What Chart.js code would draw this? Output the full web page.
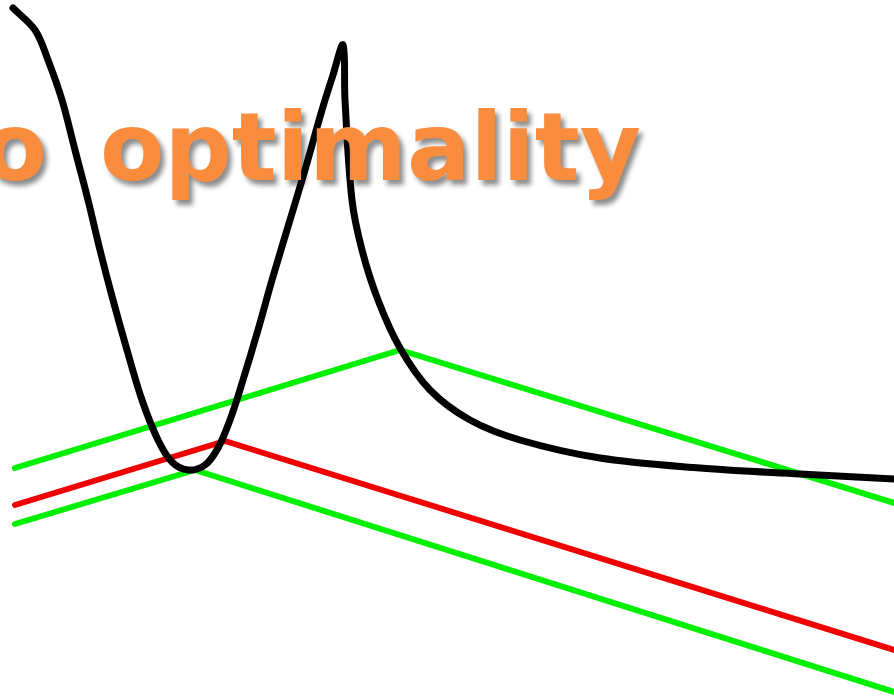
<!DOCTYPE html>
<html>
<head>
<meta charset="utf-8">
<script src="https://cdn.jsdelivr.net/npm/chart.js@4/dist/chart.umd.min.js"></script>
<style>
  html, body { margin: 0; padding: 0; background: #fff; }
  #wrap { width: 894px; height: 699px; }
</style>
</head>
<body>
<div id="wrap"><canvas id="chart" width="894" height="699"></canvas></div>
<script>
'use strict';

// black cost curve
const curveX = [13, 35, 48, 62, 75, 88, 100, 113, 127, 142, 158, 172, 188, 205, 218, 230, 243, 258, 272, 290, 305, 322, 333, 343,
                345, 352, 362, 378, 400, 430, 470, 520, 600, 700, 800, 894];
const curveY = [8, 30, 60, 100, 150, 200, 250, 300, 350, 400, 440, 462, 470, 465, 448, 420, 380, 330, 280, 220, 170, 110, 75, 45,
                100, 200, 250, 300, 348, 390, 420, 440, 458, 468, 474, 479];

// upper green bound
const upperX = [15, 400, 894];
const upperY = [468, 350, 503];

// red bound
const redX = [15, 225, 894];
const redY = [505, 441, 650];

// lower green bound
const lowerX = [15, 195, 894];
const lowerY = [524, 470, 692];

const titleWords = ['to', 'optimality'];

const pts = (xs, ys) => xs.map((x, i) => ({ x, y: ys[i] }));

var green = 'rgb(0, 240, 0)';
var red = 'rgb(240, 0, 0)';

const titlePlugin = {
  id: 'title',
  afterDatasetsDraw(chart) {
    const ctx = chart.ctx;
    ctx.save();
    ctx.font = 'bold 94px "DejaVu Sans"';
    ctx.textBaseline = 'alphabetic';
    ctx.shadowColor = 'rgba(0,0,0,0.45)';
    ctx.shadowOffsetX = 4;
    ctx.shadowOffsetY = 5;
    ctx.shadowBlur = 5;
    ctx.fillStyle = 'rgb(250, 140, 62)';
    // first word runs off the left edge
    ctx.textAlign = 'right';
    ctx.fillText(titleWords[0], 47, 180);
    ctx.textAlign = 'left';
    ctx.fillText(titleWords[1], 100, 180);
    ctx.restore();
  }
};

const chart = new Chart(document.getElementById('chart').getContext('2d'), {
  type: 'line',
  data: {
    datasets: [
      { data: pts(curveX, curveY), borderColor: '#000', borderWidth: 7, tension: 0.35 },
      { data: pts(upperX, upperY), borderColor: green, borderWidth: 6, tension: 0 },
      { data: pts(redX, redY), borderColor: red, borderWidth: 6, tension: 0 },
      { data: pts(lowerX, lowerY), borderColor: green, borderWidth: 6, tension: 0 }
    ]
  },
  options: {
    responsive: false,
    animation: false,
    layout: { padding: 0 },
    elements: { point: { radius: 0 }, line: { borderCapStyle: 'round', borderJoinStyle: 'round' } },
    plugins: { legend: { display: false }, tooltip: { enabled: false } },
    scales: {
      x: { type: 'linear', min: 0, max: 894, display: false },
      y: { type: 'linear', min: 0, max: 699, reverse: true, display: false }
    }
  },
  plugins: [titlePlugin]
});
</script>
</body>
</html>
